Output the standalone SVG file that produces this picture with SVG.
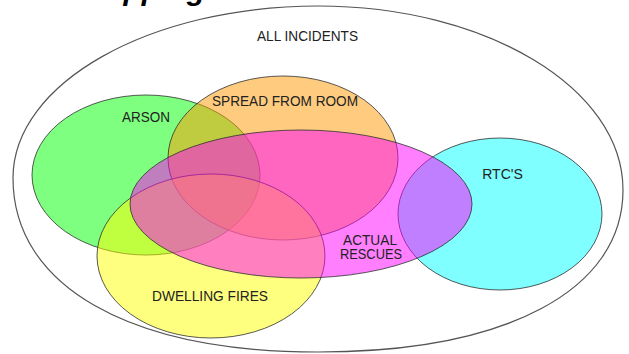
<svg xmlns="http://www.w3.org/2000/svg" width="629" height="354" viewBox="0 0 629 354">
<style>
.set{stroke:#303030;stroke-width:1;stroke-opacity:0.8}
.lbl{font-family:"Liberation Sans",Arial,sans-serif;font-size:14px;fill:#222;text-anchor:middle}
</style>
<rect width="629" height="354" fill="#fff"/>
<text x="30" y="0" font-family="Liberation Sans,Arial,sans-serif" font-size="30" font-weight="bold" font-style="italic" fill="#000">Overlapping</text>
<g id="all-incidents">
<path d="M318 6 C486 6 623 88 623 190 C623 290 507 352 318 352 C129 352 13 286 13 178 C13 83 150 6 318 6 Z" fill="none" stroke="#555" stroke-width="1.2"/>
<text class="lbl" x="307.5" y="41" textLength="101" lengthAdjust="spacingAndGlyphs">ALL INCIDENTS</text>
</g>
<g id="arson">
<ellipse class="set" cx="146" cy="175" rx="114" ry="80" fill="#00ff00" fill-opacity="0.5"/>
</g>
<g id="spread-from-room">
<ellipse class="set" cx="283" cy="158" rx="115" ry="82" fill="#ff9900" fill-opacity="0.5"/>
</g>
<g id="dwelling-fires">
<ellipse class="set" cx="211" cy="256" rx="114" ry="82" fill="#ffff00" fill-opacity="0.5"/>
</g>
<g id="rtcs">
<ellipse class="set" cx="500" cy="214" rx="102" ry="76" fill="#00ffff" fill-opacity="0.5"/>
</g>
<g id="actual-rescues">
<ellipse class="set" cx="301" cy="204" rx="171" ry="74" fill="#ff00ff" fill-opacity="0.5"/>
</g>
<g id="labels">
<text class="lbl" x="146" y="122" textLength="48" lengthAdjust="spacingAndGlyphs">ARSON</text>
<text class="lbl" x="285" y="106" textLength="146" lengthAdjust="spacingAndGlyphs">SPREAD FROM ROOM</text>
<text class="lbl" x="502.5" y="179">RTC'S</text>
<text class="lbl" x="370" y="245" font-size="13.5" textLength="54" lengthAdjust="spacingAndGlyphs">ACTUAL</text>
<text class="lbl" x="371" y="259" font-size="13.5" textLength="62" lengthAdjust="spacingAndGlyphs">RESCUES</text>
<text class="lbl" x="210" y="301" textLength="116" lengthAdjust="spacingAndGlyphs">DWELLING FIRES</text>
</g>
<g id="connectors"></g>
</svg>
